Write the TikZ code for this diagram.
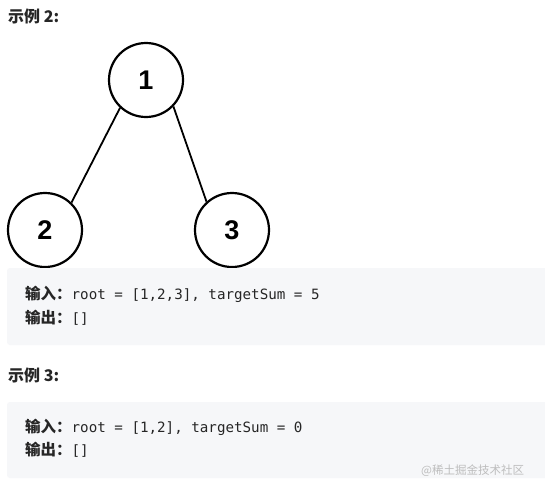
\documentclass[tikz,border=0pt]{standalone}
\usepackage{fontspec}
\usepackage{xcolor}
\usepackage{tikz}
\setmainfont{Liberation Sans}
\setmonofont{DejaVu Sans Mono}
\newfontfamily\cjk{Noto Sans CJK SC}
\definecolor{lcBg}{HTML}{F6F7F9}
\definecolor{lcInk}{HTML}{262626}
\definecolor{lcMark}{HTML}{BDBDBD}
\newcommand\cjklead[1]{{\cjk\bfseries\fontsize{15.5}{16}\selectfont #1}}

\begin{document}
\begin{tikzpicture}[
  x=1pt, y=-1pt,
  treenode/.style={circle, draw=black, line width=2.2pt, minimum size=74pt, inner sep=0pt,
    font=\fontsize{27}{27}\selectfont\bfseries},
  tree/.style={line width=1.8pt},
  codebox/.style={fill=lcBg, rounded corners=3pt},
  heading/.style={anchor=base west, inner sep=0pt, text=lcInk,
    font=\cjk\bfseries\fontsize{16}{18}\selectfont},
  codeline/.style={anchor=base west, inner sep=0pt, text=lcInk,
    font=\fontsize{14.2}{16}\selectfont}
]
  \useasboundingbox[fill=white] (0,0) rectangle (545,480);
  % example 2
  \node[heading] (h2) at (8,22) {示例 2:};
  \node[treenode] (n1) at (146,80) {1};
  \node[treenode] (n2) at (45,230) {2};
  \node[treenode] (n3) at (232,230) {3};
  \draw[tree] (n1.227) -- (n2.46);
  \draw[tree] (n1.316) -- (n3.132);
  \fill[codebox] (7,268) rectangle (552,345);
  \node[codeline] (in2) at (25,299) {\cjklead{输入：}\ttfamily root = [1,2,3], targetSum = 5};
  \node[codeline] (out2) at (25,323) {\cjklead{输出：}\ttfamily []};
  % example 3
  \node[heading] (h3) at (8,381) {示例 3:};
  \fill[codebox] (7,402) rectangle (552,478);
  \node[codeline] (in3) at (25,432) {\cjklead{输入：}\ttfamily root = [1,2], targetSum = 0};
  \node[codeline] (out3) at (25,455) {\cjklead{输出：}\ttfamily []};
  \node[anchor=base west, inner sep=0pt, text=lcMark, font=\cjk\fontsize{11.5}{12}\selectfont] (mark) at (421,474) {@稀土掘金技术社区};
\end{tikzpicture}
\end{document}
